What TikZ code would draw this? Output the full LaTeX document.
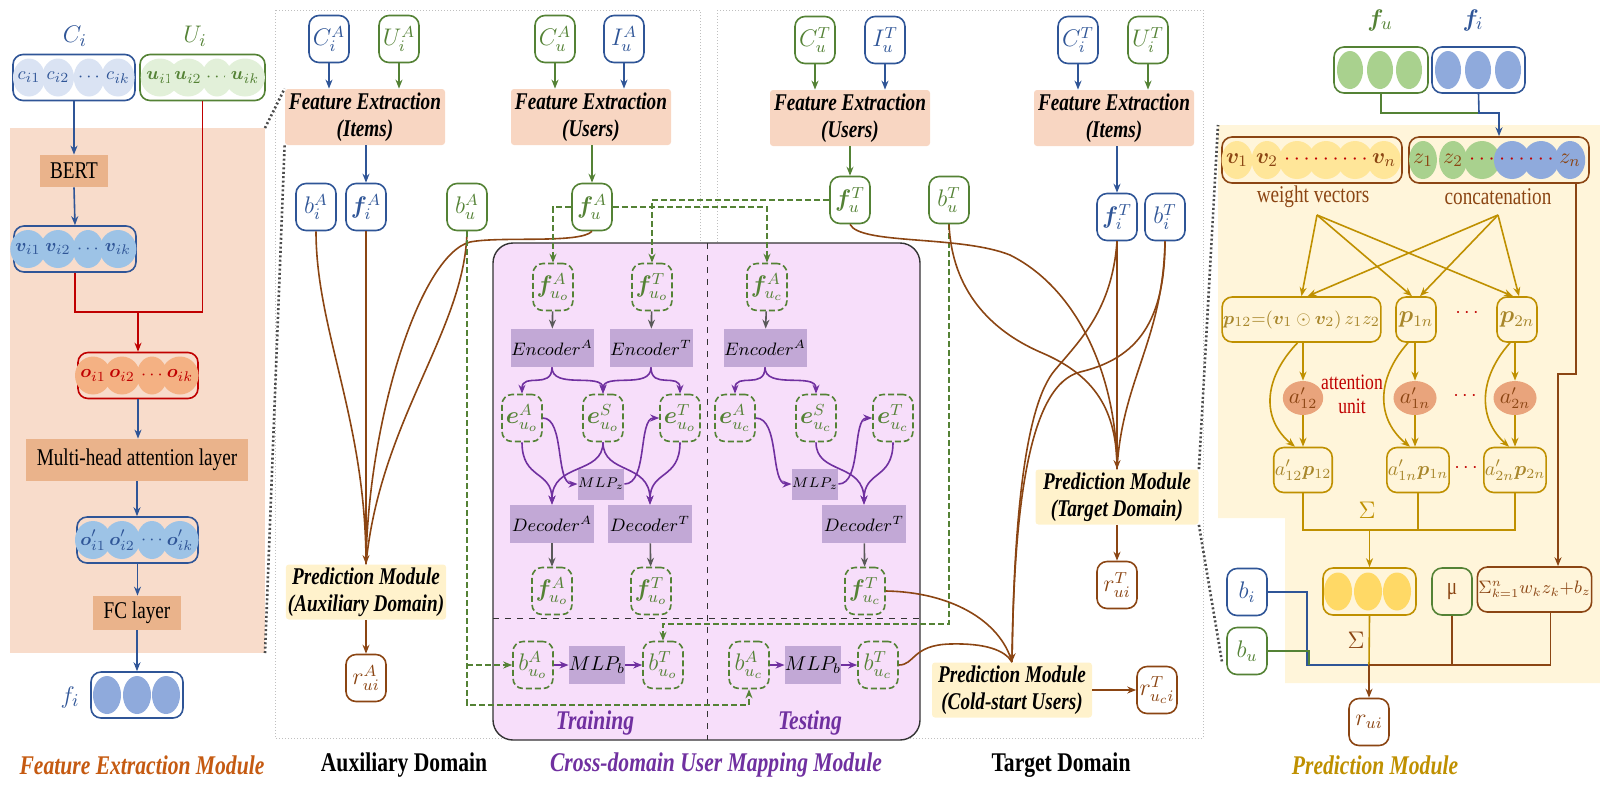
\documentclass[tikz,border=0pt]{standalone}
\usepackage{fontspec}
\usepackage{bm}
\setmainfont{Liberation Serif}[FakeStretch=0.8]
\usetikzlibrary{arrows.meta,shapes.geometric}
\definecolor{dblue}{HTML}{2F5597}
\definecolor{dgreen}{HTML}{548235}
\definecolor{brn}{HTML}{8B4513}
\definecolor{gold}{HTML}{BF9000}
\definecolor{goldtxt}{HTML}{A8862A}
\definecolor{dred}{HTML}{C00000}
\definecolor{purp}{HTML}{7030A0}
\definecolor{purpbg}{HTML}{F7DEFA}
\definecolor{lav}{HTML}{C2A8D6}
\definecolor{peach}{HTML}{F8D6C2}
\definecolor{orbg}{HTML}{F8DCCB}
\definecolor{bertc}{HTML}{EAB38B}
\definecolor{ylbg}{HTML}{FFF5DA}
\definecolor{pmfill}{HTML}{FFF2CC}
\definecolor{cblue}{HTML}{DAE3F3}
\definecolor{cgreen}{HTML}{E2F0D9}
\definecolor{mblue}{HTML}{9DC3E6}
\definecolor{oorange}{HTML}{F4B183}
\definecolor{fblue}{HTML}{8FAADC}
\definecolor{fgreen}{HTML}{A9D18E}
\definecolor{yel}{HTML}{FFE699}
\definecolor{yel2}{HTML}{FFD966}
\definecolor{attc}{HTML}{E9A47C}
\definecolor{gry}{HTML}{595959}
\definecolor{fetitle}{HTML}{C55A11}
\begin{document}
\begin{tikzpicture}[x=0.5pt,y=-0.5pt,
  arr/.style={-{Stealth[length=4.5pt,width=3.5pt]}},
  nb/.style={draw, rounded corners=5pt, line width=0.8pt, fill=white, minimum width=20pt, minimum height=23.5pt, inner sep=0.5pt, font=\fontsize{12}{14}\selectfont},
  bnb/.style={nb, draw=dblue, text=dblue},
  gnb/.style={nb, draw=dgreen, text=dgreen},
  rnb/.style={nb, draw=brn, text=brn},
  dnb/.style={nb, draw=dgreen, text=dgreen, fill=none, dash pattern=on 3pt off 1.5pt, font=\fontsize{11.5}{13}\selectfont},
  ynb/.style={nb, draw=gold, text=goldtxt, fill=none, minimum height=22.5pt},
  vecbox/.style={draw, rounded corners=5pt, line width=0.8pt, minimum height=23pt, inner sep=0pt},
  vdot/.style={ellipse, minimum width=14pt, minimum height=19pt, inner sep=0pt, font=\fontsize{9.5}{11}\selectfont},
  febox/.style={fill=peach, rounded corners=1.5pt, minimum width=80pt, minimum height=28pt, align=center, inner sep=1pt, font=\fontsize{12}{13.5}\selectfont\bfseries\itshape},
  pmbox/.style={fill=pmfill, rounded corners=1.5pt, minimum width=80pt, minimum height=27.5pt, align=center, inner sep=1pt, font=\fontsize{12}{13.5}\selectfont\bfseries\itshape},
  opbox/.style={fill=bertc, minimum height=16pt, inner sep=1pt, font=\fontsize{12}{14}\selectfont},
  encbox/.style={fill=lav, minimum width=41.5pt, minimum height=19pt, inner sep=0pt, font=\fontsize{9}{10}\selectfont},
  brl/.style={draw=brn, line width=0.8pt},
  barr/.style={draw=dblue, line width=0.8pt, arr},
  garr/.style={draw=dgreen, line width=0.8pt, arr},
  gdl/.style={draw=dgreen, line width=0.8pt, dash pattern=on 3pt off 1.5pt},
  prl/.style={draw=purp, line width=0.8pt, arr},
  gyl/.style={draw=gry, line width=0.8pt, arr},
  gol/.style={draw=gold, line width=0.8pt},
  zoomln/.style={draw=black!70, line width=1.3pt, dash pattern=on 1pt off 1.2pt},
  frm/.style={draw=black!25, line width=0.5pt, densely dotted},
  ttl/.style={font=\fontsize{13.5}{15}\selectfont\bfseries\itshape},
  lbl/.style={font=\fontsize{13}{14}\selectfont},
]
\useasboundingbox (0,0) rectangle (1600,800);
% ---------- backgrounds ----------
\fill[orbg] (10,128) rectangle (265,653);
\fill[ylbg] (1218,125) -- (1600,125) -- (1600,683) -- (1285,683) -- (1285,518) -- (1218,518) -- cycle;
\draw[frm] (275,10) rectangle (700,738);
\draw[frm] (717,10) rectangle (1203,738);
\draw[draw=black!80, fill=purpbg, line width=0.7pt, rounded corners=10pt] (493,243) rectangle (920,740);
\draw[black!80, line width=0.5pt, dashed] (707,243) -- (707,740);
\draw[black!80, line width=0.5pt, dashed] (493,618) -- (920,618);

% ---------- left panel ----------
\node[lbl, text=dblue] (lci) at (75,36) {$C_i$};
\node[lbl, text=dgreen] (lui) at (195,36) {$U_i$};
\node[vecbox, draw=dblue, minimum width=61pt] (cbox) at (74,77.5) {};
\foreach \x/\lab [count=\k] in {29/c_{i1},58/c_{i2},89/\cdots,118/c_{ik}}
  \node[vdot, fill=cblue, text=dblue] (cc\k) at (\x,77.5) {$\lab$};
\node[vecbox, draw=dgreen, minimum width=62.5pt] (ubox) at (202.5,77.5) {};
\foreach \x/\lab [count=\k] in {160/\bm{u}_{i1},188/\bm{u}_{i2},217/\cdots,245/\bm{u}_{ik}}
  \node[vdot, fill=cgreen, text=dgreen] (uu\k) at (\x,77.5) {$\lab$};
\node[opbox, minimum width=34pt] (bert) at (74,171) {BERT};
\node[vecbox, draw=dblue, minimum width=61pt] (vbox) at (75,249) {};
\foreach \x/\lab [count=\k] in {28/\bm{v}_{i1},58/\bm{v}_{i2},88/\cdots,118/\bm{v}_{ik}}
  \node[vdot, fill=mblue, text=dblue] (vv\k) at (\x,249) {$\lab$};
\node[vecbox, draw=dred, minimum width=60pt] (obox) at (138,375.5) {};
\foreach \x/\lab [count=\k] in {93/\bm{o}_{i1},122/\bm{o}_{i2},152/\cdots,180/\bm{o}_{ik}}
  \node[vdot, fill=oorange, text=dred] (oo\k) at (\x,375.5) {$\lab$};
\node[opbox, minimum width=111pt, minimum height=21pt] (mha) at (137,460) {Multi-head attention layer};
\node[vecbox, draw=dblue, minimum width=60.5pt] (o2box) at (137.5,540) {};
\foreach \x/\lab [count=\k] in {93/\bm{o}'_{i1},122/\bm{o}'_{i2},152/\cdots,180/\bm{o}'_{ik}}
  \node[vdot, fill=mblue, text=dblue] (op\k) at (\x,540) {$\lab$};
\node[opbox, minimum width=44pt, minimum height=17pt] (fc) at (137,613) {FC layer};
\node[vecbox, draw=dblue, minimum width=46pt] (fibox) at (137,695) {};
\foreach \x [count=\k] in {107,137,166}
  \node[vdot, fill=fblue] (ff\k) at (\x,695) {};
\node[lbl, text=dblue] (lfi) at (70,697) {$f_i$};
\coordinate (rj) at (138,312);

% ---------- auxiliary domain ----------
\node[bnb] (ciA) at (329,39) {$C_i^A$};
\node[gnb] (uiA) at (399,39) {$U_i^A$};
\node[febox] (feiA) at (365,117) {Feature Extraction\\(Items)};
\node[gnb] (cuA) at (555,39) {$C_u^A$};
\node[bnb] (iuA) at (624,39) {$I_u^A$};
\node[febox] (feuA) at (591,117) {Feature Extraction\\(Users)};
\node[bnb] (biA) at (316,207) {$b_i^A$};
\node[bnb] (fiA) at (366,207) {$\bm{f}_i^A$};
\node[gnb] (buA) at (467,207) {$b_u^A$};
\node[gnb] (fuA) at (592,207) {$\bm{f}_u^A$};
\node[pmbox] (pmA) at (366,592) {Prediction Module\\(Auxiliary Domain)};
\node[rnb] (ruiA) at (366,678) {$r_{ui}^A$};

% ---------- cross-domain mapping ----------
\node[dnb] (fuoA1) at (553,287) {$\bm{f}_{u_o}^A$};
\node[dnb] (fuoT1) at (652,287) {$\bm{f}_{u_o}^T$};
\node[dnb] (fucA) at (767,287) {$\bm{f}_{u_c}^A$};
\node[encbox] (encA1) at (552,348) {$Encoder^A$};
\node[encbox] (encT1) at (651,348) {$Encoder^T$};
\node[encbox] (encA2) at (765,348) {$Encoder^A$};
\node[dnb] (euoA) at (522,418) {$\bm{e}_{u_o}^A$};
\node[dnb] (euoS) at (603,418) {$\bm{e}_{u_o}^S$};
\node[dnb] (euoT) at (680,418) {$\bm{e}_{u_o}^T$};
\node[dnb] (eucA) at (735,418) {$\bm{e}_{u_c}^A$};
\node[dnb] (eucS) at (816,418) {$\bm{e}_{u_c}^S$};
\node[dnb] (eucT) at (893,418) {$\bm{e}_{u_c}^T$};
\node[encbox, minimum width=22.5pt, minimum height=15.5pt, font=\fontsize{7}{8}\selectfont] (mlpz1) at (601,484) {$MLP_z$};
\node[encbox, minimum width=22.5pt, minimum height=15.5pt, font=\fontsize{7}{8}\selectfont] (mlpz2) at (815,484) {$MLP_z$};
\node[encbox, minimum width=42pt] (decA) at (552,524) {$Decoder^A$};
\node[encbox, minimum width=42pt] (decT1) at (650,524) {$Decoder^T$};
\node[encbox, minimum width=42pt] (decT2) at (864,524) {$Decoder^T$};
\node[dnb] (fuoA2) at (552,591) {$\bm{f}_{u_o}^A$};
\node[dnb] (fuoT2) at (651,591) {$\bm{f}_{u_o}^T$};
\node[dnb] (fucT) at (865,591) {$\bm{f}_{u_c}^T$};
\node[dnb] (buoA) at (533,665) {$b_{u_o}^A$};
\node[encbox, minimum width=26.5pt, font=\fontsize{10}{11}\selectfont] (mlpb1) at (597,665) {$MLP_b$};
\node[dnb] (buoT) at (663,665) {$b_{u_o}^T$};
\node[dnb] (bucA) at (749,665) {$b_{u_c}^A$};
\node[encbox, minimum width=26.5pt, font=\fontsize{10}{11}\selectfont] (mlpb2) at (813,665) {$MLP_b$};
\node[dnb] (bucT) at (878,665) {$b_{u_c}^T$};
\node[ttl, text=purp] (trn) at (595,723) {Training};
\node[ttl, text=purp] (tst) at (810,723) {Testing};

% ---------- target domain ----------
\node[gnb] (cuT) at (815,40) {$C_u^T$};
\node[bnb] (iuT) at (885,40) {$I_u^T$};
\node[bnb] (ciT) at (1078,40) {$C_i^T$};
\node[gnb] (uiT) at (1148,40) {$U_i^T$};
\node[febox] (feuT) at (850,118) {Feature Extraction\\(Users)};
\node[febox] (feiT) at (1114,118) {Feature Extraction\\(Items)};
\node[gnb] (fuT) at (850,200) {$\bm{f}_u^T$};
\node[gnb] (buT) at (949,200) {$b_u^T$};
\node[bnb] (fiT) at (1117,217) {$\bm{f}_i^T$};
\node[bnb] (biT) at (1165,217) {$b_i^T$};
\node[pmbox, minimum width=81.5pt] (pmT) at (1117,497) {Prediction Module\\(Target Domain)};
\node[rnb] (ruiT) at (1117,585) {$r_{ui}^T$};
\node[pmbox] (pmC) at (1012,690) {Prediction Module\\(Cold-start Users)};
\node[rnb] (rucT) at (1157,690) {$r_{u_c i}^T$};

% ---------- prediction module ----------
\node[lbl, text=dgreen] (lfu) at (1380,20) {$\bm{f}_u$};
\node[lbl, text=dblue] (lfi2) at (1473,20) {$\bm{f}_i$};
\node[vecbox, draw=dgreen, minimum width=47pt] (fubox) at (1381,70) {};
\foreach \x [count=\k] in {1350,1380,1409}
  \node[vdot, fill=fgreen, minimum width=13pt] (fu\k) at (\x,70) {};
\node[vecbox, draw=dblue, minimum width=46.5pt] (fibox2) at (1478.5,70) {};
\foreach \x [count=\k] in {1448,1478,1508}
  \node[vdot, fill=fblue, minimum width=13pt] (fb\k) at (\x,70) {};
\node[vecbox, draw=brn, minimum width=90pt] (wbox) at (1312,160) {};
\foreach \x/\lab/\col [count=\k] in {1237/\bm{v}_1/brn,1267/\bm{v}_2/brn,1297/\cdots/dred,1326/\cdots/dred,1355/\cdots/dred,1384/\bm{v}_n/brn}
  \node[vdot, fill=yel, text=\col, minimum width=13.5pt, font=\fontsize{11}{12}\selectfont] (ww\k) at (\x,160) {$\lab$};
\node[vecbox, draw=brn, minimum width=90pt] (zbox) at (1499,160) {};
\foreach \x/\lab/\col/\fc [count=\k] in {1423/z_1/brn/fgreen,1453/z_2/brn/fgreen,1482/\cdots/dred/fgreen,1512/\cdots/dred/fblue,1541/\cdots/dred/fblue,1570/z_n/brn/fblue}
  \node[vdot, fill=\fc, text=\col, minimum width=13.5pt, font=\fontsize{11}{12}\selectfont] (zz\k) at (\x,160) {$\lab$};
\node[text=brn, font=\fontsize{12}{13}\selectfont] (wlab) at (1313,197) {weight vectors};
\node[text=brn, font=\fontsize{12}{13}\selectfont] (zlab) at (1498,197) {concatenation};
\coordinate (ws) at (1317,215);
\coordinate (zs) at (1498,215);
\node[ynb, minimum width=76.5pt, font=\fontsize{9.5}{11}\selectfont] (p12) at (1301.5,319.5) {$\bm{p}_{12}{=}(\bm{v}_1\odot\bm{v}_2)\,z_1z_2$};
\node[ynb] (p1n) at (1416,319.5) {$\bm{p}_{1n}$};
\node[ynb] (p2n) at (1517,319.5) {$\bm{p}_{2n}$};
\node[text=dred] (dt1) at (1467,313) {$\cdots$};
\node[ellipse, fill=attc, text=brn, minimum width=14pt, minimum height=17pt, inner sep=0pt, font=\fontsize{10.5}{12}\selectfont] (a12) at (1303,398) {$a'_{12}$};
\node[ellipse, fill=attc, text=brn, minimum width=14pt, minimum height=17pt, inner sep=0pt, font=\fontsize{10.5}{12}\selectfont] (a1n) at (1415,398) {$a'_{1n}$};
\node[ellipse, fill=attc, text=brn, minimum width=14pt, minimum height=17pt, inner sep=0pt, font=\fontsize{10.5}{12}\selectfont] (a2n) at (1515,398) {$a'_{2n}$};
\node[text=dred, align=center, font=\fontsize{11}{12}\selectfont] (attl) at (1352,394) {attention\\unit};
\node[text=dred] (dt2) at (1465,396) {$\cdots$};
\node[ynb, minimum width=29pt, font=\fontsize{10}{12}\selectfont] (ap12) at (1303,470) {$a'_{12}\bm{p}_{12}$};
\node[ynb, minimum width=29pt, font=\fontsize{10}{12}\selectfont] (ap1n) at (1418,470) {$a'_{1n}\bm{p}_{1n}$};
\node[ynb, minimum width=29pt, font=\fontsize{10}{12}\selectfont] (ap2n) at (1515,470) {$a'_{2n}\bm{p}_{2n}$};
\node[text=dred] (dt3) at (1466,468) {$\cdots$};
\node[text=gold, lbl] (sg1) at (1367,510) {$\Sigma$};
\node[vecbox, draw=gold, minimum width=46.5pt, minimum height=23.5pt] (sbox) at (1369.5,591.5) {};
\foreach \x [count=\k] in {1338,1368,1397}
  \node[vdot, fill=yel2] (ss\k) at (\x,591.5) {};
\node[nb, draw=dgreen, text=brn, fill=none] (mu) at (1452,591.5) {μ};
\node[nb, draw=brn, text=brn, fill=none, minimum width=52.5pt, minimum height=22.5pt, font=\fontsize{9}{11}\selectfont] (form) at (1534.5,589.5) {$\Sigma_{k=1}^{n} w_k z_k{+}b_z$};
\node[bnb] (bi) at (1247,592) {$b_i$};
\node[gnb] (bu) at (1247,651) {$b_u$};
\node[text=brn, lbl] (sg2) at (1356,640) {$\Sigma$};
\node[rnb] (rui) at (1369,722) {$r_{ui}$};
\coordinate (mj) at (1369,665);
\coordinate (cj) at (1479,113);
\coordinate (zc1) at (1576,374);
\coordinate (zc2) at (1558,374);
\coordinate (sl) at (1303,530);
\coordinate (sr) at (1515,530);

% ---------- titles ----------
\node[ttl, text=fetitle] (t1) at (142,765) {Feature Extraction Module};
\node[font=\fontsize{13.5}{15}\selectfont\bfseries] (t2) at (404,765) {Auxiliary Domain};
\node[ttl, text=purp] (t3) at (716,765) {Cross-domain User Mapping Module};
\node[font=\fontsize{13.5}{15}\selectfont\bfseries] (t4) at (1061,765) {Target Domain};
\node[ttl, text=gold] (t5) at (1375,765) {Prediction Module};

% ================= connectors =================
% left panel
\draw[barr] (cbox.south) -- (bert.north);
\draw[barr] (bert.south) -- (vbox.north);
\draw[dred, line width=0.8pt] (vbox.south) |- (rj);
\draw[dred, line width=0.8pt] (ubox.south) |- (rj);
\draw[dred, line width=0.8pt, arr] (rj) -- (obox.north);
\draw[barr] (obox.south) -- (obox.south |- mha.north);
\draw[barr] (mha.south) -- (mha.south |- o2box.north);
\draw[barr] (o2box.south) -- (o2box.south |- fc.north);
\draw[barr] (fc.south) -- (fibox.north);
% zoom lines
\draw[zoomln] (265,128) -- (feiA.north west);
\draw[zoomln] (feiA.south west) -- (265,653);
\draw[zoomln] (pmT.north east) -- (1218,125);
\draw[zoomln] (pmT.south east) -- (1222,662);
% auxiliary
\draw[barr] (ciA) -- (ciA |- feiA.north);
\draw[garr] (uiA) -- (uiA |- feiA.north);
\draw[garr] (cuA) -- (cuA |- feuA.north);
\draw[barr] (iuA) -- (iuA |- feuA.north);
\draw[barr] (fiA |- feiA.south) -- (fiA);
\draw[garr] (fuA |- feuA.south) -- (fuA);
\draw[brl] (biA.south) .. controls (316,330) and (366,420) .. (pmA.north);
\draw[brl, arr] (fiA.south) -- (pmA.north);
\draw[brl] (buA.south) .. controls (465,330) and (380,420) .. (pmA.north);
\draw[brl] (fuA.south) .. controls (580,244) and (500,236) .. (470,242) .. controls (420,255) and (368,420) .. (pmA.north);
\draw[brl, arr] (pmA.south) -- (ruiA.north);
% green dashed feeds
\draw[gdl, arr] (fuA.west) -| (fuoA1.north);
\draw[gdl, arr] (fuA.east) -| (fucA.north);
\draw[gdl, arr] (fuT.west) -| (fuoT1.north);
\draw[gdl, arr] (buA.south) -- (467,705) -| (bucA.south);
\draw[gdl, arr] (buA.south |- buoA.west) -- (buoA.west);
\draw[gdl, arr] (buT.south) -- (949,624) -| (buoT.north);
% mapping internals
\draw[gyl] (fuoA1) -- (encA1);
\draw[gyl] (fuoT1) -- (encT1);
\draw[gyl] (fucA) -- (encA2);
\draw[prl] (encA1.south) .. controls (552,390) and (522,372) .. (euoA.north);
\draw[prl] (encA1.south) .. controls (552,390) and (603,372) .. (euoS.north);
\draw[prl] (encT1.south) .. controls (651,390) and (603,372) .. (euoS.north);
\draw[prl] (encT1.south) .. controls (651,390) and (680,372) .. (euoT.north);
\draw[prl] (encA2.south) .. controls (765,390) and (735,372) .. (eucA.north);
\draw[prl] (encA2.south) .. controls (765,390) and (816,372) .. (eucS.north);
\draw[prl] (euoA.south) .. controls (522,480) and (552,470) .. (decA.north);
\draw[prl] (euoS.south) .. controls (603,475) and (552,462) .. (decA.north);
\draw[prl] (euoS.south) .. controls (603,475) and (650,462) .. (decT1.north);
\draw[prl] (euoT.south) .. controls (680,480) and (650,470) .. (decT1.north);
\draw[prl] (euoA.east) .. controls (565,418) and (555,484) .. (mlpz1.west);
\draw[prl] (mlpz1.east) .. controls (648,484) and (638,418) .. (euoT.west);
\draw[prl] (eucA.east) .. controls (780,418) and (770,484) .. (mlpz2.west);
\draw[prl] (mlpz2.east) .. controls (862,484) and (852,418) .. (eucT.west);
\draw[prl] (eucS.south) .. controls (816,475) and (864,462) .. (decT2.north);
\draw[prl] (eucT.south) .. controls (893,480) and (864,470) .. (decT2.north);
\draw[gyl] (decA) -- (fuoA2);
\draw[gyl] (decT1) -- (fuoT2);
\draw[gyl] (decT2) -- (fucT);
\draw[prl] (buoA) -- (mlpb1);
\draw[prl] (mlpb1) -- (buoT);
\draw[prl] (bucA) -- (mlpb2);
\draw[prl] (mlpb2) -- (bucT);
% target
\draw[garr] (cuT) -- (cuT |- feuT.north);
\draw[barr] (iuT) -- (iuT |- feuT.north);
\draw[barr] (ciT) -- (ciT |- feiT.north);
\draw[garr] (uiT) -- (uiT |- feiT.north);
\draw[garr] (fuT |- feuT.south) -- (fuT);
\draw[barr] (fiT |- feiT.south) -- (fiT);
\draw[brl] (fuT.south) .. controls (860,245) and (960,235) .. (1010,255) .. controls (1080,290) and (1117,380) .. (pmT.north);
\draw[brl] (buT.south) .. controls (952,290) and (990,330) .. (1040,352) .. controls (1095,375) and (1117,410) .. (pmT.north);
\draw[brl, arr] (fiT.south) -- (pmT.north);
\draw[brl] (biT.south) .. controls (1163,340) and (1122,380) .. (pmT.north);
\draw[brl] (biT.south) .. controls (1165,330) and (1130,360) .. (1080,372) .. controls (1030,385) and (1014,500) .. (pmC.north);
\draw[brl, arr] (fiT.south) .. controls (1112,310) and (1080,340) .. (1055,370) .. controls (1025,405) and (1014,520) .. (pmC.north);
\draw[brl] (fucT.east) .. controls (950,592) and (1000,620) .. (pmC.north);
\draw[brl] (bucT.east) .. controls (915,665) and (912,645) .. (950,644) .. controls (985,643) and (1005,650) .. (pmC.north);
\draw[brl, arr] (pmT.south) -- (ruiT.north);
\draw[brl, arr] (pmC.east) -- (rucT.west);
% prediction module
\draw[dgreen, line width=0.8pt] (fubox.south) |- (cj);
\draw[barr] (fibox2.south) -- (cj) -| (zbox.north);
\draw[gol, arr] (ws) -- (p12.north);
\draw[gol, arr] (zs) -- ([xshift=3pt]p12.north);
\draw[gol, arr] (ws) -- ([xshift=-2pt]p1n.north);
\draw[gol, arr] (zs) -- ([xshift=2pt]p1n.north);
\draw[gol, arr] (ws) -- ([xshift=-2pt]p2n.north);
\draw[gol, arr] (zs) -- ([xshift=1pt]p2n.north);
\draw[gol, arr] (a12.north |- p12.south) -- (a12.north);
\draw[gol, arr] (a12.south) -- (a12.south |- ap12.north);
\draw[gol, arr] (a1n.north |- p1n.south) -- (a1n.north);
\draw[gol, arr] (a1n.south) -- (a1n.south |- ap1n.north);
\draw[gol, arr] (a2n.north |- p2n.south) -- (a2n.north);
\draw[gol, arr] (a2n.south) -- (a2n.south |- ap2n.north);
\draw[gol, arr] ([xshift=-2pt]p12.south) .. controls (1262,380) and (1262,420) .. ([xshift=-4pt]ap12.north);
\draw[gol, arr] ([xshift=-4pt]p1n.south) .. controls (1375,380) and (1377,420) .. ([xshift=-4pt]ap1n.north);
\draw[gol, arr] ([xshift=-3.5pt]p2n.south) .. controls (1477,380) and (1479,420) .. ([xshift=-3pt]ap2n.north);
\draw[gol] (ap12.south) -- (sl) -- (sr) -- (ap2n.south);
\draw[gol] (ap1n.south) -- (ap1n.south |- sl);
\draw[gol, arr] (sbox.north |- sl) -- (sbox.north);
\draw[brl, arr] (zc1 |- zbox.south) -- (zc1) -- (zc2) -- (zc2 |- form.north);
\draw[dblue, line width=0.8pt] (bi.east) -| (1307,665) -- (mj);
\draw[dgreen, line width=0.8pt] (bu.east) -| (1309,665);
\draw[gol] (sbox.south) -- (mj);
\draw[brl] (mu.south) -- (mu.south |- mj);
\draw[brl] ([xshift=8pt]form.south) -- ([xshift=8pt]form.south |- mj) -- (mj);
\draw[brl, arr] (mj) -- (rui.north);
\end{tikzpicture}
\end{document}
